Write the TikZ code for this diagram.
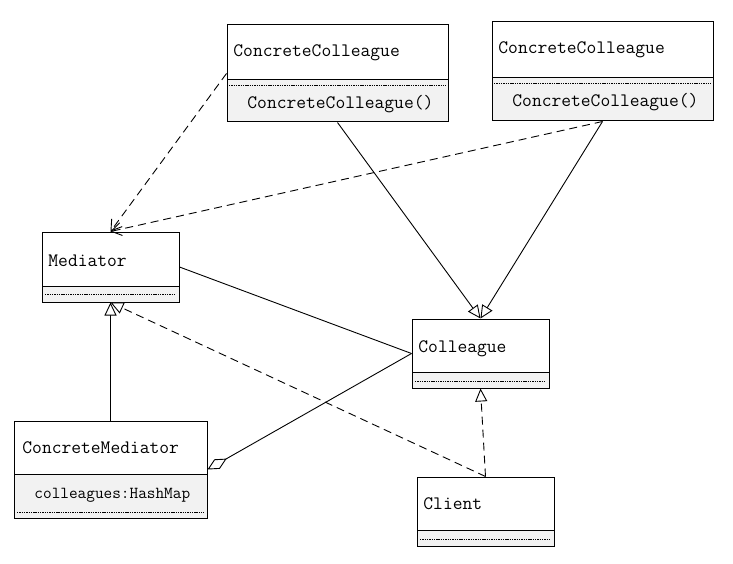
\documentclass[tikz,border=0pt]{standalone}
\usepackage{fontspec}
\usetikzlibrary{arrows.meta}
\definecolor{compfill}{RGB}{242,242,242}

\begin{document}
\begin{tikzpicture}[x=1pt, y=-1pt, line width=0.9pt,
    box/.style={draw, line width=1pt, inner sep=0pt, rectangle},
    classname/.style={anchor=base west, inner sep=0pt, font=\ttfamily\fontsize{19}{21}\selectfont},
    member/.style={anchor=base west, inner sep=0pt, font=\ttfamily\fontsize{19}{21}\selectfont},
    dots/.style={line width=0.6pt, dash pattern=on 1.4pt off 0.9pt},
    inherit/.style={-{Triangle[open, length=13pt, width=12pt, fill=white]}},
    realize/.style={inherit, dash pattern=on 8pt off 5pt},
    depend/.style={-{Straight Barb[length=10pt, width=13pt]}, dash pattern=on 8pt off 5pt},
    aggregate/.style={-{Diamond[open, length=22pt, width=11pt, fill=white]}}]
    \useasboundingbox (0,0) rectangle (733,564);

    % ConcreteColleague (left)
    \fill[compfill] (227,79) rectangle (448,122);
    \draw (227,79) -- (448,79);
    \draw[dots] (229,85) -- (446,85);
    \node[box, minimum width=221pt, minimum height=97pt] (cc1) at (337.5,73.5) {};
    \node[classname] (cc1name) at (233,57) {ConcreteColleague};
    \node[member] (cc1op) at (247,109) {ConcreteColleague()};

    % ConcreteColleague (right)
    \fill[compfill] (492,77) rectangle (713,121);
    \draw (492,77) -- (713,77);
    \draw[dots] (494,83) -- (711,83);
    \node[box, minimum width=221pt, minimum height=99pt] (cc2) at (602.5,71.5) {};
    \node[classname] (cc2name) at (498,54) {ConcreteColleague};
    \node[member] (cc2op) at (512,107) {ConcreteColleague()};

    % Mediator
    \fill[compfill] (42,286) rectangle (179,302);
    \draw (42,286) -- (179,286);
    \draw[dots] (45,294) -- (176,294);
    \node[box, minimum width=137pt, minimum height=70pt] (mediator) at (110.5,267) {};
    \node[classname] (medname) at (48,266) {Mediator};

    % Colleague
    \fill[compfill] (412,372) rectangle (549,388);
    \draw (412,372) -- (549,372);
    \draw[dots] (415,381) -- (546,381);
    \node[box, minimum width=137pt, minimum height=69pt] (colleague) at (480.5,353.5) {};
    \node[classname] (colname) at (418,352) {Colleague};

    % ConcreteMediator
    \fill[compfill] (14,474) rectangle (207,518);
    \draw (14,474) -- (207,474);
    \draw[dots] (17,512) -- (204,512);
    \node[box, minimum width=193pt, minimum height=97pt] (cmediator) at (110.5,469.5) {};
    \node[classname] (cmname) at (22,453) {ConcreteMediator};
    \node[member, font=\ttfamily\fontsize{16.8}{18}\selectfont] (cmattr) at (34,498) {colleagues:HashMap};

    % Client
    \fill[compfill] (417,530) rectangle (554,546);
    \draw (417,530) -- (554,530);
    \draw[dots] (420,539) -- (551,539);
    \node[box, minimum width=137pt, minimum height=69pt] (client) at (485.5,511.5) {};
    \node[classname] (clname) at (423,509) {Client};

    % connectors
    \draw[depend] (cc1.west) -- (mediator.north);
    \draw[depend] (cc2.south) -- (mediator.north);
    \draw[inherit] (cc1.south) -- (colleague.north);
    \draw[inherit] (cc2.south) -- (colleague.north);
    \draw (mediator.east) -- (colleague.west);
    \draw[aggregate] (colleague.west) -- (cmediator.east);
    \draw[inherit] (cmediator.north) -- (mediator.south);
    \draw[realize] (client.north) -- (colleague.south);
    \draw[realize] (client.north) -- (mediator.south);
\end{tikzpicture}
\end{document}
